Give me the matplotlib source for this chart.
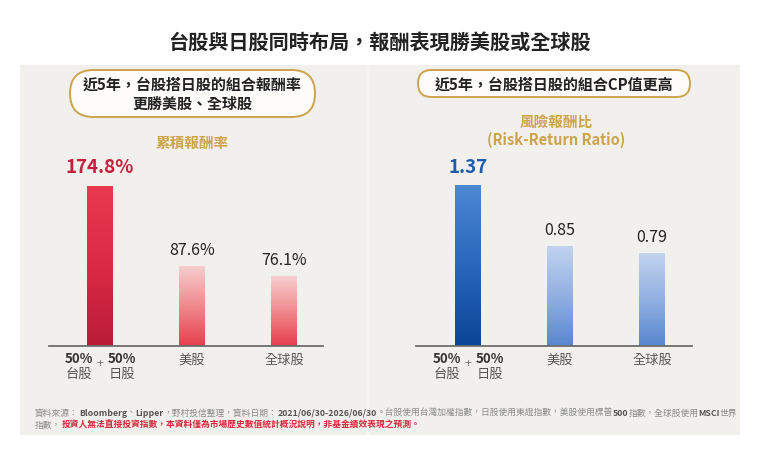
import matplotlib
matplotlib.use('Agg')
import matplotlib.pyplot as plt
import numpy as np
from matplotlib.colors import LinearSegmentedColormap
from matplotlib.patches import FancyBboxPatch, Rectangle

plt.rcParams['font.family'] = ['Noto Sans CJK TC', 'DejaVu Sans']

# data
categories = ['50%+50%', '美股', '全球股']
cum_return = [174.8, 87.6, 76.1]
cum_labels = ['174.8%', '87.6%', '76.1%']
risk_return = [1.37, 0.85, 0.79]
rr_labels = ['1.37', '0.85', '0.79']

title = '台股與日股同時布局，報酬表現勝美股或全球股'
left_pill = '近5年，台股搭日股的組合報酬率\n更勝美股、全球股'
right_pill = '近5年，台股搭日股的組合CP值更高'
left_sub = '累積報酬率'
right_sub = '風險報酬比\n(Risk-Return Ratio)'
# footnote pieces: (text, bold)
note_1 = [('資料來源：', False), ('Bloomberg', True), ('、', False), ('Lipper', True),
          ('，野村投信整理，資料日期：', False), ('2021/06/30-2026/06/30', True),
          ('。台股使用台灣加權指數，日股使用東證指數，美股使用標普', False), ('500', True),
          ('指數，全球股使用', False), ('MSCI', True), ('世界', False)]
note_2a = '指數，'
note_2b = '投資人無法直接投資指數，本資料僅為市場歷史數值統計概況說明，非基金績效表現之預測。'

W, H = 760, 461
GOLD = '#CDA34C'
DARK = '#222222'

fig = plt.figure(figsize=(W / 100, H / 100), dpi=100)
fig.patch.set_facecolor('white')

# pixel-space overlay for decorations
bg = fig.add_axes([0, 0, 1, 1])
bg.set_xlim(0, W)
bg.set_ylim(H, 0)
bg.axis('off')
bg.add_patch(Rectangle((20, 65), 720, 370, facecolor='#F1F0EC', edgecolor='none'))
bg.add_patch(Rectangle((366, 65), 4, 370, facecolor='#F5F4F1', edgecolor='none'))

bg.text(380, 42, title, ha='center', va='center', fontsize=14.5,
        fontweight='bold', color=DARK)

for (x0, y0, w, h, txt) in [(70, 70, 245, 47, left_pill), (418, 70, 272, 27, right_pill)]:
    bg.add_patch(FancyBboxPatch((x0, y0), w, h,
                                boxstyle=f'round,pad=0,rounding_size={h / 2}',
                                facecolor='#FDFCF9', edgecolor=GOLD, lw=1.4))
    bg.text(x0 + w / 2, y0 + h / 2 + 1, txt, ha='center', va='center',
            fontsize=10.8, fontweight='bold', color=DARK, linespacing=1.25)

bg.text(192, 143, left_sub, ha='center', va='center', fontsize=10.5,
        fontweight='bold', color=GOLD)
bg.text(556, 131, right_sub, ha='center', va='center', fontsize=10.5,
        fontweight='bold', color=GOLD, linespacing=1.2)

# footnote, drawn piece by piece
FS = 6.3
prev = None
for txt, bold in note_1:
    kw = dict(fontsize=FS, color='#555555' if bold else '#8A8A8A',
              fontweight='bold' if bold else 'normal', ha='left', va='center')
    if prev is None:
        prev = bg.text(35, 413, txt, **kw)
    else:
        prev = bg.annotate(txt, xy=(1, 0.5), xycoords=prev, **kw)
t2 = bg.text(35, 425, note_2a, ha='left', va='center', fontsize=FS, color='#8A8A8A')
bg.annotate(note_2b, xy=(1, 0.5), xycoords=t2, ha='left', va='center',
            fontsize=FS, fontweight='bold', color='#D7283D')


def px_axes(x0, x1, ytop, ybot):
    return fig.add_axes([x0 / W, 1 - ybot / H, (x1 - x0) / W, (ybot - ytop) / H])


def gradient_bars(ax, values, cmaps):
    bars = ax.bar(range(len(values)), values, width=0.28, color='none', zorder=2)
    grad = np.linspace(0, 1, 256).reshape(-1, 1)
    for bar, cmap in zip(bars, cmaps):
        x, y = bar.get_x(), bar.get_y()
        w, h = bar.get_width(), bar.get_height()
        im = ax.imshow(grad, cmap=cmap, aspect='auto', origin='lower',
                       extent=[x, x + w, y, y + h], zorder=2)
        im.set_clip_path(bar)
    return bars


def style_axis(ax, xlim, ylim):
    ax.set_xlim(*xlim)
    ax.set_ylim(*ylim)
    ax.set_facecolor('none')
    for s in ['top', 'right', 'left']:
        ax.spines[s].set_visible(False)
    ax.spines['bottom'].set_color('#6E6E6E')
    ax.spines['bottom'].set_linewidth(1.3)
    ax.set_yticks([])
    ax.set_xticks([])


def cat_labels(ax):
    # first category: 50% 台股 + 50% 日股
    for dx, name in [(-15, '台股'), (16, '日股')]:
        ax.annotate('50%', xy=(0, 0), xytext=(dx, -9), textcoords='offset points',
                    ha='center', va='center', fontsize=9.5, fontweight='bold',
                    color='#333333', annotation_clip=False)
        ax.annotate(name, xy=(0, 0), xytext=(dx, -20.5), textcoords='offset points',
                    ha='center', va='center', fontsize=9.5, color='#555555',
                    annotation_clip=False)
    ax.annotate('+', xy=(0, 0), xytext=(0, -12.5), textcoords='offset points',
                ha='center', va='center', fontsize=9, color='#777777',
                annotation_clip=False)
    for i, name in enumerate(categories[1:], start=1):
        ax.annotate(name, xy=(i, 0), xytext=(0, -10), textcoords='offset points',
                    ha='center', va='center', fontsize=9.5, color='#555555',
                    annotation_clip=False)


def value_labels(ax, values, labels, first_color):
    for i, (v, lab) in enumerate(zip(values, labels)):
        if i == 0:
            kw = dict(fontsize=13.5, fontweight='bold', color=first_color)
            off = 9
        else:
            kw = dict(fontsize=11.5, color=DARK)
            off = 8
        ax.annotate(lab, xy=(i, v), xytext=(0, off), textcoords='offset points',
                    ha='center', va='baseline', **kw)


red_main = LinearSegmentedColormap.from_list('rm', ['#B91C38', '#DA2A45', '#EA3A50'])
red_soft = LinearSegmentedColormap.from_list('rs', ['#E73E4C', '#F08A8E', '#F7CFCF'])
blue_main = LinearSegmentedColormap.from_list('bm', ['#0A4597', '#2A66BB', '#4D88D3'])
blue_soft = LinearSegmentedColormap.from_list('bs', ['#5887CF', '#92B0E2', '#C2D3EF'])

ax1 = px_axes(49, 323, 150, 346)
gradient_bars(ax1, cum_return, [red_main, red_soft, red_soft])
style_axis(ax1, (-0.554, 2.424), (0, 214.1))
value_labels(ax1, cum_return, cum_labels, '#C61F3E')
cat_labels(ax1)

ax2 = px_axes(416, 692, 150, 346)
gradient_bars(ax2, risk_return, [blue_main, blue_soft, blue_soft])
style_axis(ax2, (-0.565, 2.435), (0, 1.668))
value_labels(ax2, risk_return, rr_labels, '#1F5BAE')
cat_labels(ax2)

fig.savefig('out.png', dpi=100)
